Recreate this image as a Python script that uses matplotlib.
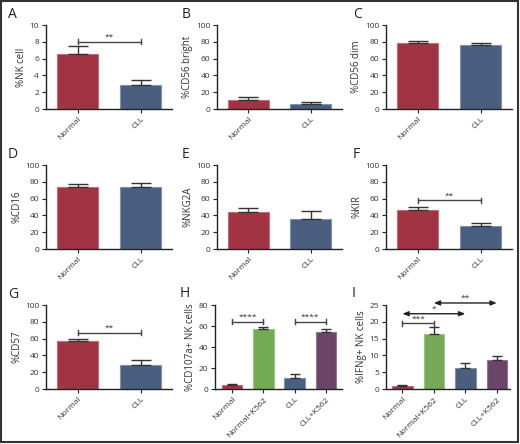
import matplotlib
matplotlib.use("Agg")
import matplotlib.pyplot as plt
from matplotlib.patches import Rectangle

plt.rcParams['font.family'] = ['Open Sans', 'DejaVu Sans']

# ---- data ----
two_groups = ["Normal", "CLL"]
four_groups = ["Normal", "Normal+K562", "CLL", "CLL+K562"]

nk_cell = [6.5, 2.8]; nk_cell_err = [1.0, 0.7]
cd56_bright = [11.0, 6.5]; cd56_bright_err = [3.0, 2.0]
cd56_dim = [78.0, 76.0]; cd56_dim_err = [3.0, 2.5]
cd16 = [73.5, 74.0]; cd16_err = [3.5, 4.5]
nkg2a = [44.0, 35.5]; nkg2a_err = [4.5, 9.5]
kir = [46.0, 27.5]; kir_err = [3.5, 4.0]
cd57 = [57.0, 29.0]; cd57_err = [3.0, 5.0]
cd107a = [4.0, 57.5, 10.5, 54.0]; cd107a_err = [1.0, 1.5, 3.5, 3.0]
ifng = [0.9, 16.3, 6.2, 8.5]; ifng_err = [0.3, 2.2, 1.6, 1.3]

colors2 = ["#A13343", "#4A5F80"]
edges2 = ["#C76A78", "#7E93B3"]
colors4 = ["#A13343", "#74A955", "#4A5F80", "#6B4568"]
edges4 = ["#C76A78", "#9CC582", "#7E93B3", "#96739A"]

W, H = 520, 444
fig = plt.figure(figsize=(W / 100, H / 100), dpi=100)

cols = [46, 217, 386]
col_w = [126, 125, 126]
rows_bottom = [109, 249, 389]
ax_h = 84

def make_ax(r, c, x0=None, x1=None):
    left = (x0 if x0 is not None else cols[c]) / W
    right = (x1 if x1 is not None else cols[c] + col_w[c]) / W
    bottom = 1 - rows_bottom[r] / H
    return fig.add_axes([left, bottom, right - left, ax_h / H])

txt = "#333333"

def style(ax, ylabel, ymax, ystep, cats, xlim):
    for s in ["top", "right"]:
        ax.spines[s].set_visible(False)
    for s in ["left", "bottom"]:
        ax.spines[s].set_color("#222222")
        ax.spines[s].set_linewidth(1.0)
    ax.set_ylim(0, ymax)
    ax.set_yticks(list(range(0, ymax + 1, ystep)))
    ax.set_xlim(*xlim)
    ax.set_xticks(range(len(cats)))
    ax.set_xticklabels(cats, rotation=45, ha="right", rotation_mode="anchor")
    ax.tick_params(axis="both", labelsize=6, colors="#222222", labelcolor=txt,
                   length=3, width=0.8, pad=2)
    ax.set_ylabel(ylabel, fontsize=7, color=txt, labelpad=2)

def bars(ax, vals, errs, colors, edges, width, capsize):
    x = list(range(len(vals)))
    ax.bar(x, vals, width=width, color=colors, edgecolor=edges, linewidth=0.8, zorder=2)
    ax.errorbar(x, vals, yerr=[[0] * len(vals), errs], fmt="none", ecolor="#333333",
                elinewidth=1.0, capsize=capsize, capthick=1.0, zorder=3)

def bracket(ax, x0, x1, y, label, d, fs=6):
    ax.plot([x0, x1], [y, y], color="#444444", lw=1.0, clip_on=False, zorder=4)
    ax.plot([x0, x0], [y - d, y + d], color="#444444", lw=1.0, clip_on=False, zorder=4)
    ax.plot([x1, x1], [y - d, y + d], color="#444444", lw=1.0, clip_on=False, zorder=4)
    ax.text((x0 + x1) / 2, y + d * 0.3, label, ha="center", va="bottom", fontsize=fs,
            color=txt, clip_on=False)

def darrow(ax, x0, x1, y, label, dy):
    ax.annotate("", xy=(x0, y), xytext=(x1, y),
                arrowprops=dict(arrowstyle="<|-|>,head_length=0.35,head_width=0.14",
                                color="#222222", lw=1.0, shrinkA=0, shrinkB=0),
                annotation_clip=False)
    ax.text((x0 + x1) / 2, y + dy, label, ha="center", va="bottom", fontsize=6,
            color=txt, clip_on=False)

def letter(x, y, s):
    fig.text(x / W, 1 - y / H, s, fontsize=10, color="#222222", ha="left", va="center")

xl2 = (-0.5, 1.5)
bw2 = 0.65
cap2 = 7.5

# A
ax = make_ax(0, 0)
bars(ax, nk_cell, nk_cell_err, colors2, edges2, bw2, cap2)
style(ax, "%NK cell", 10, 2, two_groups, xl2)
bracket(ax, 0, 1, 8.0, "**", 0.3)
letter(8, 15, "A")

# B
ax = make_ax(0, 1)
bars(ax, cd56_bright, cd56_bright_err, colors2, edges2, bw2, cap2)
style(ax, "%CD56 bright", 100, 20, two_groups, xl2)
letter(182, 15, "B")

# C
ax = make_ax(0, 2)
bars(ax, cd56_dim, cd56_dim_err, colors2, edges2, bw2, cap2)
style(ax, "%CD56 dim", 100, 20, two_groups, xl2)
letter(353, 15, "C")

# D
ax = make_ax(1, 0)
bars(ax, cd16, cd16_err, colors2, edges2, bw2, cap2)
style(ax, "%CD16", 100, 20, two_groups, xl2)
letter(8, 155, "D")

# E
ax = make_ax(1, 1)
bars(ax, nkg2a, nkg2a_err, colors2, edges2, bw2, cap2)
style(ax, "%NKG2A", 100, 20, two_groups, xl2)
letter(182, 155, "E")

# F
ax = make_ax(1, 2)
bars(ax, kir, kir_err, colors2, edges2, bw2, cap2)
style(ax, "%KIR", 100, 20, two_groups, xl2)
bracket(ax, 0, 1, 58, "**", 3)
letter(353, 155, "F")

# G
ax = make_ax(2, 0)
bars(ax, cd57, cd57_err, colors2, edges2, bw2, cap2)
style(ax, "%CD57", 100, 20, two_groups, xl2)
bracket(ax, 0, 1, 67, "**", 3)
letter(8, 295, "G")

# H
ax = make_ax(2, 1, 215, 342)
bars(ax, cd107a, cd107a_err, colors4, edges4, 0.65, 3.5)
style(ax, "%CD107a+ NK cells", 80, 20, four_groups, (-0.55, 3.52))
bracket(ax, 0, 1, 64, "****", 2.4)
bracket(ax, 2, 3, 64, "****", 2.4)
letter(180, 293, "H")

# I
ax = make_ax(2, 2, 386, 510)
bars(ax, ifng, ifng_err, colors4, edges4, 0.65, 3.5)
style(ax, "%IFNg+ NK cells", 25, 5, four_groups, (-0.52, 3.42))
bracket(ax, 0, 1, 19.6, "***", 0.75)
darrow(ax, 0, 2, 22.4, "*", 0.3)
darrow(ax, 1, 3, 25.6, "**", 0.3)
letter(352, 293, "I")

# frame
fig.patches.append(Rectangle((0.001, 0.004), 0.996, 0.993, transform=fig.transFigure,
                             fill=False, edgecolor="#333333", linewidth=1.5))

fig.savefig("out.png", dpi=100)
